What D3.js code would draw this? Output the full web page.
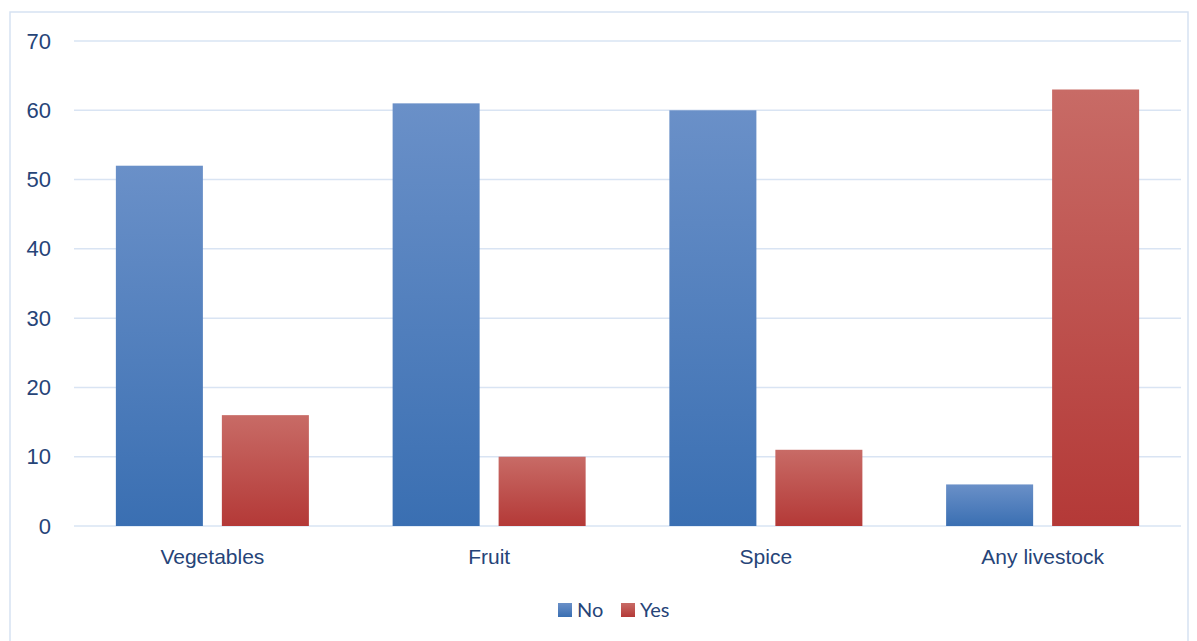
<!DOCTYPE html>
<html>
<head>
<meta charset="utf-8">
<script src="https://cdn.jsdelivr.net/npm/d3@7"></script>
<style>
  html, body { margin: 0; padding: 0; background: #fff; }
  svg { display: block; font-family: Lato, "Open Sans", sans-serif; }
</style>
</head>
<body>
<svg id="chart" width="1197" height="641"></svg>
<script>
// Chart data
const categories = ["Vegetables", "Fruit", "Spice", "Any livestock"];
const seriesNames = ["No", "Yes"];
const noValues = [52, 61, 60, 6];
const yesValues = [16, 10, 11, 63];
const yTicks = [0, 10, 20, 30, 40, 50, 60, 70];

const svg = d3.select("#chart");
const textColor = "#264478";
const gridColor = "#D9E4F3";

// Outer chart border
svg.append("rect")
  .attr("x", 10).attr("y", 12)
  .attr("width", 1178).attr("height", 640)
  .attr("fill", "none")
  .attr("stroke", "#D6E2F2").attr("stroke-width", 1.5);

// Gradient fills per series
const defs = svg.append("defs");
const grads = [
  { id: "gNo", top: "#6A90C8", bottom: "#3A6FB2" },
  { id: "gYes", top: "#C86B66", bottom: "#B43937" }
];
grads.forEach(g => {
  const lg = defs.append("linearGradient")
    .attr("id", g.id).attr("x1", 0).attr("y1", 0).attr("x2", 0).attr("y2", 1);
  lg.append("stop").attr("offset", "0%").attr("stop-color", g.top);
  lg.append("stop").attr("offset", "100%").attr("stop-color", g.bottom);
});

const plot = { left: 74, right: 1181, top: 41, bottom: 526 };

const y = d3.scaleLinear().domain([0, 70]).range([plot.bottom, plot.top]);
const x0 = d3.scaleBand().domain(categories).range([plot.left, plot.right]).padding(0);
const x1 = d3.scaleBand().domain(seriesNames).range([0, x0.bandwidth()])
  .paddingInner(0.179).paddingOuter(0.395);

// Gridlines
svg.append("g")
  .selectAll("line")
  .data(yTicks)
  .join("line")
  .attr("x1", plot.left).attr("x2", plot.right)
  .attr("y1", d => y(d)).attr("y2", d => y(d))
  .attr("stroke", gridColor).attr("stroke-width", 1.5);

// Y axis labels
const yAxis = d3.axisLeft(y).tickValues(yTicks).tickSize(0).tickPadding(0);
const yg = svg.append("g").attr("transform", `translate(51,0)`).call(yAxis);
yg.select(".domain").remove();
yg.selectAll("text")
  .attr("fill", textColor)
  .attr("font-size", 22);

// Bars
const rows = categories.map((c, i) => ({ cat: c, No: noValues[i], Yes: yesValues[i] }));
const groups = svg.append("g")
  .selectAll("g")
  .data(rows)
  .join("g")
  .attr("transform", d => `translate(${x0(d.cat)},0)`);

groups.selectAll("rect")
  .data(d => seriesNames.map(s => ({ key: s, value: d[s] })))
  .join("rect")
  .attr("x", d => x1(d.key))
  .attr("width", x1.bandwidth())
  .attr("y", d => y(d.value))
  .attr("height", d => y(0) - y(d.value))
  .attr("fill", d => d.key === "No" ? "url(#gNo)" : "url(#gYes)");

// X axis labels
const xAxis = d3.axisBottom(x0).tickSize(0).tickPadding(0);
const xg = svg.append("g").attr("transform", `translate(0,${plot.bottom + 23})`).call(xAxis);
xg.select(".domain").remove();
xg.selectAll("text")
  .attr("fill", textColor)
  .attr("font-size", 21);

// Legend
const legend = svg.append("g").attr("transform", "translate(558,603)");
const legendItems = [
  { name: "No", fill: "url(#gNo)", dx: 0 },
  { name: "Yes", fill: "url(#gYes)", dx: 63 }
];
legendItems.forEach(it => {
  const g = legend.append("g").attr("transform", `translate(${it.dx},0)`);
  g.append("rect").attr("x", 0).attr("y", 0).attr("width", 14).attr("height", 14).attr("fill", it.fill);
  g.append("text").attr("x", 19).attr("y", 14)
    .attr("fill", textColor).attr("font-size", 20).text(it.name);
});
</script>
</body>
</html>
